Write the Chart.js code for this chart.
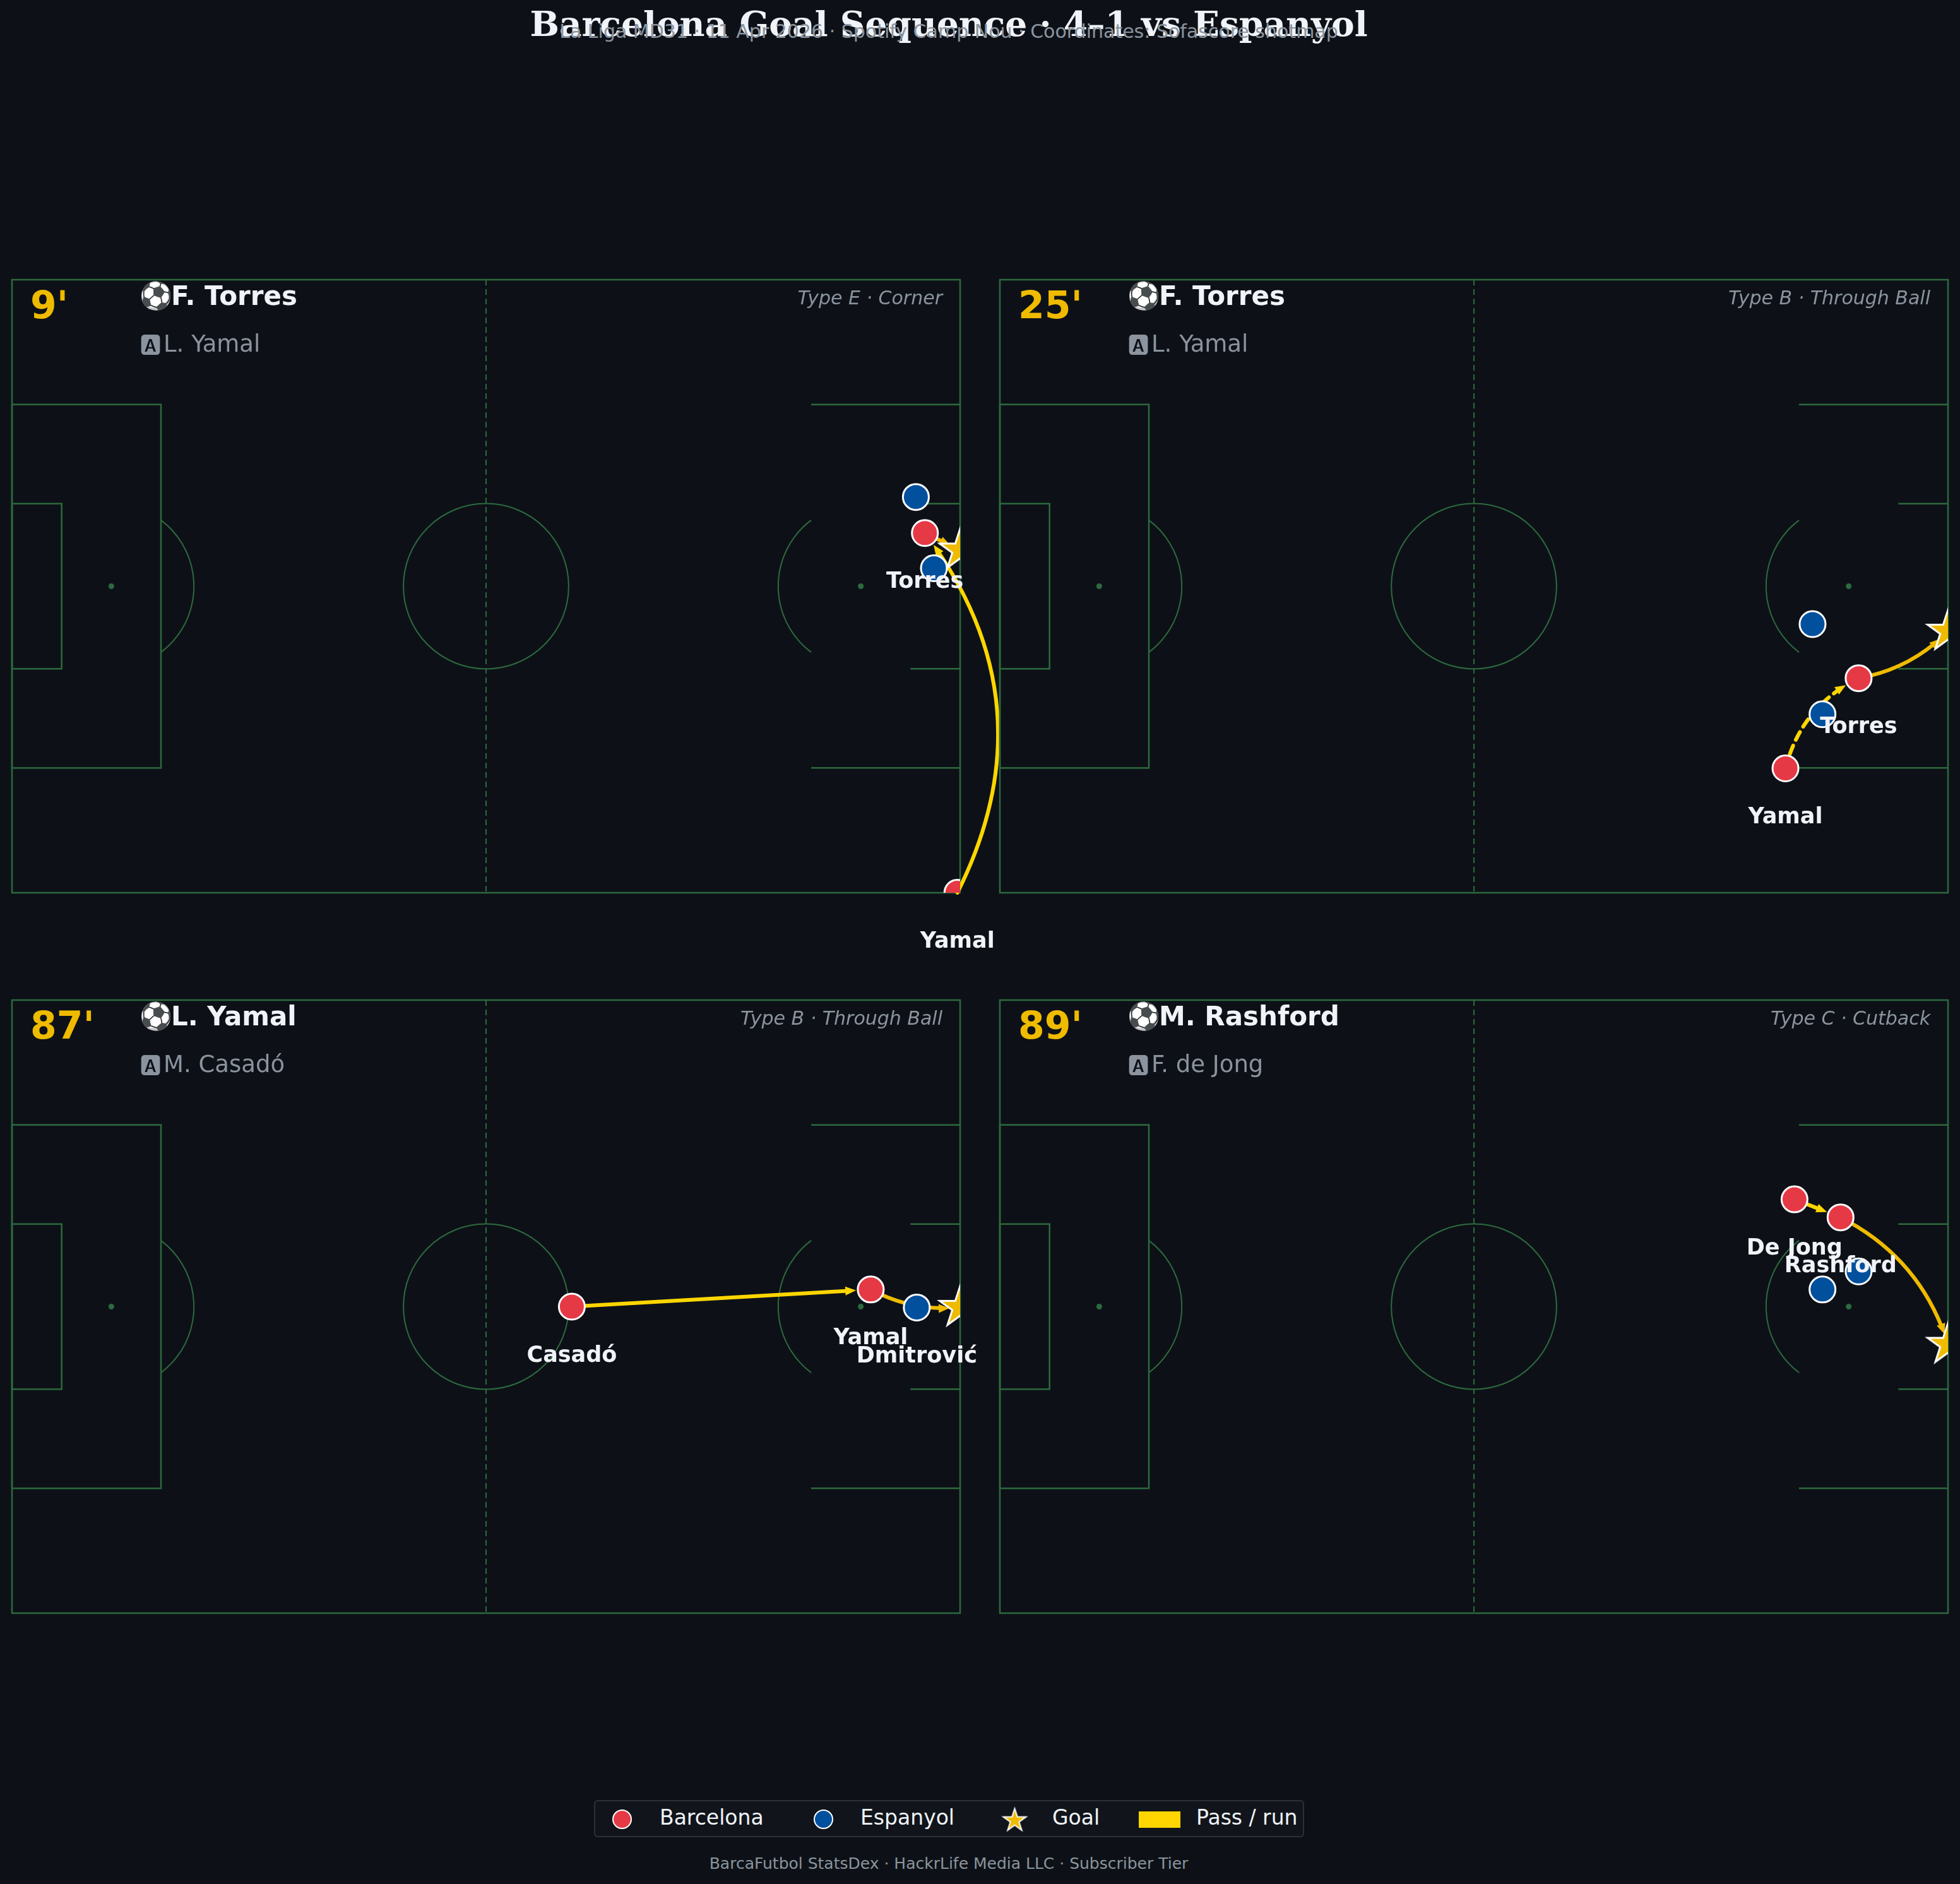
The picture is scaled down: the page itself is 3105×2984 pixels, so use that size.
<!DOCTYPE html>
<html>
<head>
<meta charset="utf-8">
<script src="https://cdn.jsdelivr.net/npm/chart.js@4.4.1/dist/chart.umd.min.js"></script>
<style>
html, body { margin: 0; padding: 0; background: #0d1117; overflow: hidden; }
body { width: 3105px; height: 2984px; position: relative; font-family: "DejaVu Sans", sans-serif; }
.abs { position: absolute; white-space: nowrap; }
#title { left: 0; width: 3006px; text-align: center; top: 6px; font: bold 55px "DejaVu Serif"; line-height: 64px; color: #f0f3f8; }
#subtitle { left: 0; width: 3006px; text-align: center; top: 32px; font: 30px "DejaVu Sans"; line-height: 35px; color: #8b949e; }
#footer { left: 0; width: 3006px; text-align: center; top: 2937px; font: 25px "DejaVu Sans"; line-height: 29px; color: #8b949e; }
#legendBox { left: 941px; top: 2851px; width: 1125px; height: 59px; border: 2px solid #2b3038; border-radius: 6px; background: #11151b; box-sizing: border-box; }
.lgText { top: 2860px; font: 33px "DejaVu Sans"; line-height: 38px; color: #f0f3f8; }
.lgDot { width: 31px; height: 31px; top: 2866px; border-radius: 50%; border: 2.5px solid #ffffff; box-sizing: border-box; }
canvas.panel { position: absolute; }
</style>
</head>
<body>
<div id="title" class="abs">Barcelona Goal Sequence · 4–1 vs Espanyol</div>
<div id="subtitle" class="abs">La Liga MD31 · 11 Apr 2026 · Spotify Camp Nou · Coordinates: Sofascore shotmap</div>

<canvas id="p0" class="panel"></canvas>
<canvas id="p1" class="panel"></canvas>
<canvas id="p2" class="panel"></canvas>
<canvas id="p3" class="panel"></canvas>

<div id="legendBox" class="abs"></div>
<div class="abs lgDot" style="left:970px;background:#e63946"></div>
<div class="abs lgText" style="left:1045px">Barcelona</div>
<div class="abs lgDot" style="left:1289px;background:#00509d"></div>
<div class="abs lgText" style="left:1363px">Espanyol</div>
<canvas id="lgStar" class="abs" width="48" height="48" style="left:1582px;top:2858px"></canvas>
<div class="abs lgText" style="left:1667px">Goal</div>
<div class="abs" style="left:1804px;top:2869px;width:66px;height:26px;background:#ffd600"></div>
<div class="abs lgText" style="left:1895px">Pass / run</div>

<div id="footer" class="abs">BarcaFutbol StatsDex · HackrLife Media LLC · Subscriber Tier</div>

<script>
// goal-by-goal data, pitch in metres (105 x 68), y measured from the top touchline
var minutes   = ["9'", "25'", "87'", "89'"];
var scorers   = ["F. Torres", "F. Torres", "L. Yamal", "M. Rashford"];
var assists   = ["L. Yamal", "L. Yamal", "M. Casadó", "F. de Jong"];
var goalTypes = ["Type E · Corner", "Type B · Through Ball", "Type B · Through Ball", "Type C · Cutback"];

var barcaX     = [[101.1, 104.7], [95.1, 87.0], [62.0, 95.1], [88.0, 93.1]];
var barcaY     = [[28.1, 68.0], [44.2, 54.2], [34.0, 32.1], [22.1, 24.1]];
var barcaNames = [["Torres", "Yamal"], ["Torres", "Yamal"], ["Casadó", "Yamal"], ["De Jong", "Rashford"]];

var espX     = [[100.1, 102.1], [90.0, 91.1], [100.2], [95.1, 91.1]];
var espY     = [[24.1, 32.0], [38.2, 48.2], [34.1], [30.1, 32.1]];
var espNames = [["", ""], ["", ""], ["Dmitrović"], ["", ""]];

var goalX = [105, 105, 105, 105];
var goalY = [30.0, 39.0, 34.1, 38.2];

// [from, to, bend, kind]  b = Barcelona player index, g = goal
var passLinks = [
     [["b1", "b0", -0.31, "pass"], ["b0", "g", 0, "shot"]],
     [["b1", "b0", 0.23, "run"], ["b0", "g", -0.16, "shot"]],
     [["b0", "b1", 0, "pass"], ["b1", "g", -0.15, "shot"]],
     [["b0", "b1", 0, "pass"], ["b1", "g", 0.21, "shot"]]
];

var BG = '#0d1117', PITCH = '#2d6a3e', RED = '#e63946', BLUE = '#00509d';
var GOLD = '#efbb00', YELLOW = '#ffd600', WHITE = '#f0f3f8', GREY = '#8b949e';
var panelPos = [[19, 443], [1584, 443], [19, 1584], [1584, 1584]];
var PW = 1502, PH = 971, M = 100;

function makeStar(R, lw) {
     var c = document.createElement('canvas');
     var s = Math.ceil(2 * R + lw * 2 + 4);
     c.width = c.height = s;
     var g = c.getContext('2d');
     g.translate(s / 2, s / 2);
     g.beginPath();
     for (var i = 0; i < 10; i++) {
          var r = i % 2 === 0 ? R : R * 0.382;
          var a = -Math.PI / 2 + i * Math.PI / 5;
          g.lineTo(r * Math.cos(a), r * Math.sin(a));
     }
     g.closePath();
     g.fillStyle = GOLD;
     g.fill();
     g.lineWidth = lw;
     g.strokeStyle = '#ffffff';
     g.lineJoin = 'miter';
     g.stroke();
     return c;
}
var starImg = makeStar(34, 3);
// legend star
(function () {
     var lc = document.getElementById('lgStar').getContext('2d');
     lc.drawImage(makeStar(19, 2), 24 - 21.5, 24 - 21.5);
})();

function pointOf(k, key) {
     if (key === 'g') return [goalX[k], goalY[k]];
     var i = +key.slice(1);
     return key[0] === 'b' ? [barcaX[k][i], barcaY[k][i]] : [espX[k][i], espY[k][i]];
}

function drawArrow(ctx, p0, p1, bend, shrink, color, dashed) {
     var dx = p1[0] - p0[0], dy = p1[1] - p0[1];
     var c = [(p0[0] + p1[0]) / 2 + bend * dy, (p0[1] + p1[1]) / 2 - bend * dx];
     var q = function (t) {
          var u = 1 - t;
          return [u * u * p0[0] + 2 * u * t * c[0] + t * t * p1[0], u * u * p0[1] + 2 * u * t * c[1] + t * t * p1[1]];
     };
     var dist = function (a, b) { return Math.hypot(a[0] - b[0], a[1] - b[1]); };
     var t = 1;
     while (t > 0 && dist(q(t), p1) < shrink) t -= 0.001;
     var tip = q(t);
     var HL = 17, HW = 7;
     var t2 = t;
     while (t2 > 0 && dist(q(t2), tip) < HL * 0.7) t2 -= 0.001;
     var c2 = [p0[0] + (c[0] - p0[0]) * t2, p0[1] + (c[1] - p0[1]) * t2];
     var e = q(t2);
     ctx.save();
     ctx.strokeStyle = color;
     ctx.fillStyle = color;
     ctx.lineWidth = 6;
     ctx.lineCap = 'round';
     if (dashed) ctx.setLineDash([14, 10]);
     ctx.beginPath();
     ctx.moveTo(p0[0], p0[1]);
     ctx.quadraticCurveTo(c2[0], c2[1], e[0], e[1]);
     ctx.stroke();
     ctx.setLineDash([]);
     // arrow head along the tangent at the tip
     var ct = [p0[0] + (c[0] - p0[0]) * t, p0[1] + (c[1] - p0[1]) * t];
     var ux = tip[0] - ct[0], uy = tip[1] - ct[1];
     var L = Math.hypot(ux, uy) || 1;
     ux /= L; uy /= L;
     var bx = tip[0] - ux * HL, by = tip[1] - uy * HL;
     ctx.beginPath();
     ctx.moveTo(tip[0], tip[1]);
     ctx.lineTo(bx - uy * HW, by + ux * HW);
     ctx.lineTo(bx + uy * HW, by - ux * HW);
     ctx.closePath();
     ctx.fill();
     ctx.restore();
}

function panelPlugin(k) {
     return {
          id: 'panel' + k,
          beforeDatasetsDraw: function (chart) {
               var ctx = chart.ctx, sx = chart.scales.x, sy = chart.scales.y;
               var X = function (v) { return sx.getPixelForValue(v); };
               var Y = function (v) { return sy.getPixelForValue(v); };
               var seg = function (x0, y0, x1, y1) {
                    ctx.beginPath();
                    ctx.moveTo(X(x0), Y(y0));
                    ctx.lineTo(X(x1), Y(y1));
                    ctx.stroke();
               };
               var m = X(1) - X(0);
               ctx.save();
               ctx.strokeStyle = PITCH;
               ctx.lineWidth = 2.5;
               ctx.strokeRect(X(0), Y(0), X(105) - X(0), Y(68) - Y(0));
               // left boxes
               [[0, 16.5, 13.84, 54.16], [0, 5.5, 24.84, 43.16]].forEach(function (b) {
                    ctx.strokeRect(X(b[0]), Y(b[2]), X(b[1]) - X(b[0]), Y(b[3]) - Y(b[2]));
               });
               // right boxes (open on the pitch side)
               seg(88.5, 13.84, 105, 13.84);
               seg(88.5, 54.16, 105, 54.16);
               seg(99.5, 24.84, 105, 24.84);
               seg(99.5, 43.16, 105, 43.16);
               ctx.lineWidth = 2;
               // centre circle
               ctx.beginPath();
               ctx.arc(X(52.5), Y(34), 9.15 * m, 0, Math.PI * 2);
               ctx.stroke();
               // penalty arcs
               var th = Math.acos(5.5 / 9.15);
               ctx.beginPath();
               ctx.arc(X(11), Y(34), 9.15 * m, -th, th);
               ctx.stroke();
               ctx.beginPath();
               ctx.arc(X(94), Y(34), 9.15 * m, Math.PI - th, Math.PI + th);
               ctx.stroke();
               // spots
               ctx.fillStyle = PITCH;
               [11, 94].forEach(function (v) {
                    ctx.beginPath();
                    ctx.arc(X(v), Y(34), 4.5, 0, Math.PI * 2);
                    ctx.fill();
               });
               // halfway line
               ctx.setLineDash([9, 6]);
               seg(52.5, 0, 52.5, 68);
               ctx.setLineDash([]);
               ctx.restore();
               // passes and shot
               passLinks[k].forEach(function (p) {
                    var a = pointOf(k, p[0]), b = pointOf(k, p[1]);
                    var pa = [X(a[0]), Y(a[1])], pb = [X(b[0]), Y(b[1])];
                    var shrink = p[1] === 'g' ? 17 : 23;
                    drawArrow(ctx, pa, pb, p[2], shrink, p[3] === 'shot' ? GOLD : YELLOW, p[3] === 'run');
               });
          },
          afterDatasetsDraw: function (chart) {
               var ctx = chart.ctx, sx = chart.scales.x, sy = chart.scales.y;
               ctx.save();
               ctx.font = 'bold 35px "DejaVu Sans"';
               ctx.fillStyle = WHITE;
               ctx.textAlign = 'center';
               ctx.textBaseline = 'alphabetic';
               var put = function (xs, ys, ns) {
                    for (var i = 0; i < xs.length; i++) {
                         if (!ns[i]) continue;
                         ctx.fillText(ns[i], sx.getPixelForValue(xs[i]), sy.getPixelForValue(ys[i]) + 87);
                    }
               };
               put(barcaX[k], barcaY[k], barcaNames[k]);
               put(espX[k], espY[k], espNames[k]);
               ctx.restore();
          },
          afterDraw: function (chart) {
               var ctx = chart.ctx, a = chart.chartArea;
               ctx.save();
               ctx.textBaseline = 'alphabetic';
               ctx.textAlign = 'left';
               ctx.fillStyle = GOLD;
               ctx.font = 'bold 60px "DejaVu Sans"';
               ctx.fillText(minutes[k], a.left + 29, a.top + 61);
               ctx.fillStyle = WHITE;
               ctx.font = 'bold 42px "DejaVu Sans"';
               ctx.fillText('⚽', a.left + 202, a.top + 40);
               ctx.fillText(scorers[k], a.left + 252, a.top + 40);
               ctx.fillStyle = GREY;
               ctx.font = '37px "DejaVu Sans"';
               ctx.fillText('🅰', a.left + 202, a.top + 114);
               ctx.fillText(assists[k], a.left + 240, a.top + 114);
               ctx.font = 'italic 30px "DejaVu Sans"';
               ctx.textAlign = 'right';
               ctx.fillText(goalTypes[k], a.right - 28, a.top + 39);
               ctx.restore();
          }
     };
}

function toPts(xs, ys) {
     return xs.map(function (v, i) { return { x: v, y: ys[i] }; });
}

window.onload = function () {
     for (var k = 0; k < 4; k++) {
          var cv = document.getElementById('p' + k);
          var w = PW + 2 * M, h = PH + 2 * M;
          cv.width = w; cv.height = h;
          cv.style.width = w + 'px'; cv.style.height = h + 'px';
          cv.style.left = (panelPos[k][0] - M) + 'px';
          cv.style.top = (panelPos[k][1] - M) + 'px';
          new Chart(cv.getContext('2d'), {
               type: 'scatter',
               data: {
                    datasets: [
                         {
                              label: 'Espanyol', data: toPts(espX[k], espY[k]),
                              backgroundColor: BLUE, borderColor: '#ffffff', borderWidth: 3,
                              pointRadius: 20.5, clip: 0
                         },
                         {
                              label: 'Barcelona', data: toPts(barcaX[k], barcaY[k]),
                              backgroundColor: RED, borderColor: '#ffffff', borderWidth: 3,
                              pointRadius: 20.5, clip: 0
                         },
                         {
                              label: 'Goal', data: [{ x: goalX[k], y: goalY[k] }],
                              pointStyle: starImg, pointRadius: 34, clip: 0
                         }
                    ]
               },
               options: {
                    responsive: false,
                    devicePixelRatio: 1,
                    animation: false,
                    events: [],
                    layout: { padding: M },
                    scales: {
                         x: { type: 'linear', min: 0, max: 105, display: false },
                         y: { type: 'linear', min: 0, max: 68, reverse: true, display: false }
                    },
                    plugins: { legend: { display: false }, tooltip: { enabled: false } }
               },
               plugins: [panelPlugin(k)]
          });
     }
};
</script>
</body>
</html>
